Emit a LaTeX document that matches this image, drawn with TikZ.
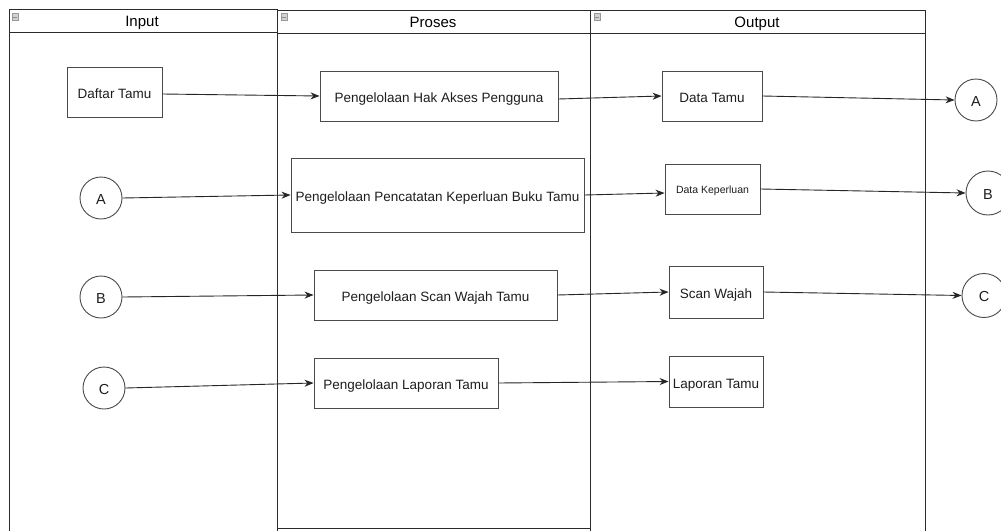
\documentclass[tikz,border=0pt]{standalone}
\usepackage{fontspec}
\setmainfont{Liberation Sans}
\usetikzlibrary{arrows.meta,calc}
\definecolor{lanecol}{HTML}{2B2B2B}
\definecolor{boxcol}{HTML}{4A4A4A}
\definecolor{txtcol}{HTML}{1E1E1E}
\tikzset{
  lane/.style={draw=lanecol, line width=0.9pt},
  lanetitle/.style={font=\fontsize{15}{17}\selectfont, text=black,
    text height=12.75pt, text depth=2pt, inner sep=0pt},
  procbox/.style={draw=boxcol, line width=0.9pt, rectangle, inner sep=0pt,
    font=\fontsize{13.5}{15}\selectfont, text=txtcol,
    text height=14pt, text depth=0.5pt},
  conn/.style={draw=boxcol, line width=0.9pt, circle, inner sep=0pt,
    minimum size=42pt, font=\fontsize{14.5}{16}\selectfont, text=txtcol,
    text height=13pt, text depth=0.6pt},
  flow/.style={draw=black!85, line width=0.9pt, -{Stealth[length=9pt,width=7pt]}},
  foldicon/.style={draw=gray!80, fill=gray!35, line width=0.4pt, minimum width=6pt,
    minimum height=7pt, inner sep=0pt}
}
\begin{document}
\begin{tikzpicture}[x=1pt,y=-1pt]
\useasboundingbox (0,0) rectangle (1001,530);
\fill[white] (0,0) rectangle (1001,530);

% swimlanes
\draw[lane] (9,535) -- (9,9) -- (277,9) -- (277,535);
\draw[lane] (9,32) -- (277,32);
\draw[lane] (277,528) -- (277,10) -- (590,10) -- (590,528) -- cycle;
\draw[lane] (277,33) -- (590,33);
\draw[lane] (590,535) -- (590,10) -- (925,10) -- (925,535);
\draw[lane] (590,33) -- (925,33);

\node[lanetitle] (tin) at (142,21) {Input};
\node[lanetitle] (tpro) at (433,22) {Proses};
\node[lanetitle] (tout) at (757,22) {Output};

% collapse markers in the lane headers
\foreach \x/\y/\n in {15/17/iin, 284/17/ipro, 597/17/iout}{
  \node[foldicon] (\n) at (\x,\y) {};
  \draw[gray!90, line width=0.5pt] (\x-2,\y) -- (\x+2,\y);
}

% input column
\node[procbox, minimum width=95pt, minimum height=50pt] (daftar) at (114.5,92) {Daftar Tamu};
\node[conn] (ina) at (101,198) {A};
\node[conn] (inb) at (101,297) {B};
\node[conn] (inc) at (104,388) {C};

% process column
\node[procbox, minimum width=238pt, minimum height=50pt] (hak) at (439,96) {Pengelolaan Hak Akses Pengguna};
\node[procbox, minimum width=293pt, minimum height=74pt] (catat) at (437.5,195) {Pengelolaan Pencatatan Keperluan Buku Tamu};
\node[procbox, minimum width=243pt, minimum height=50pt] (scan) at (435.5,295) {Pengelolaan Scan Wajah Tamu};
\node[procbox, minimum width=184pt, minimum height=50pt] (lapor) at (406,383) {Pengelolaan Laporan Tamu};

% output column
\node[procbox, minimum width=100pt, minimum height=50pt] (dtamu) at (712,96) {Data Tamu};
\node[procbox, minimum width=95pt, minimum height=50pt, font=\fontsize{10.5}{12}\selectfont,
  text height=10pt, text depth=0.5pt] (dkep) at (712.5,189) {Data Keperluan};
\node[procbox, minimum width=94pt, minimum height=52pt] (swajah) at (716,292) {Scan Wajah};
\node[procbox, minimum width=94pt, minimum height=51pt] (ltamu) at (716,381.5) {Laporan Tamu};

% off-page connectors
\node[conn] (outa) at (976,100) {A};
\node[conn, minimum size=44pt] (outb) at (988,193) {B};
\node[conn, minimum size=44pt] (outc) at (984,295.5) {C};

% flows
\draw[flow] ($(daftar.east)+(0,2)$) -- (hak.west);
\draw[flow] ($(hak.east)+(0,3)$) -- (dtamu.west);
\draw[flow] (dtamu.east) -- (outa.west);

\draw[flow] (ina.east) -- (catat.west);
\draw[flow] (catat.east) -- ($(dkep.west)+(0,4)$);
\draw[flow] (dkep.east) -- (outb.west);

\draw[flow] (inb.east) -- (scan.west);
\draw[flow] (scan.east) -- (swajah.west);
\draw[flow] (swajah.east) -- (outc.west);

\draw[flow] (inc.east) -- (lapor.west);
\draw[flow] (lapor.east) -- (ltamu.west);
\end{tikzpicture}
\end{document}
